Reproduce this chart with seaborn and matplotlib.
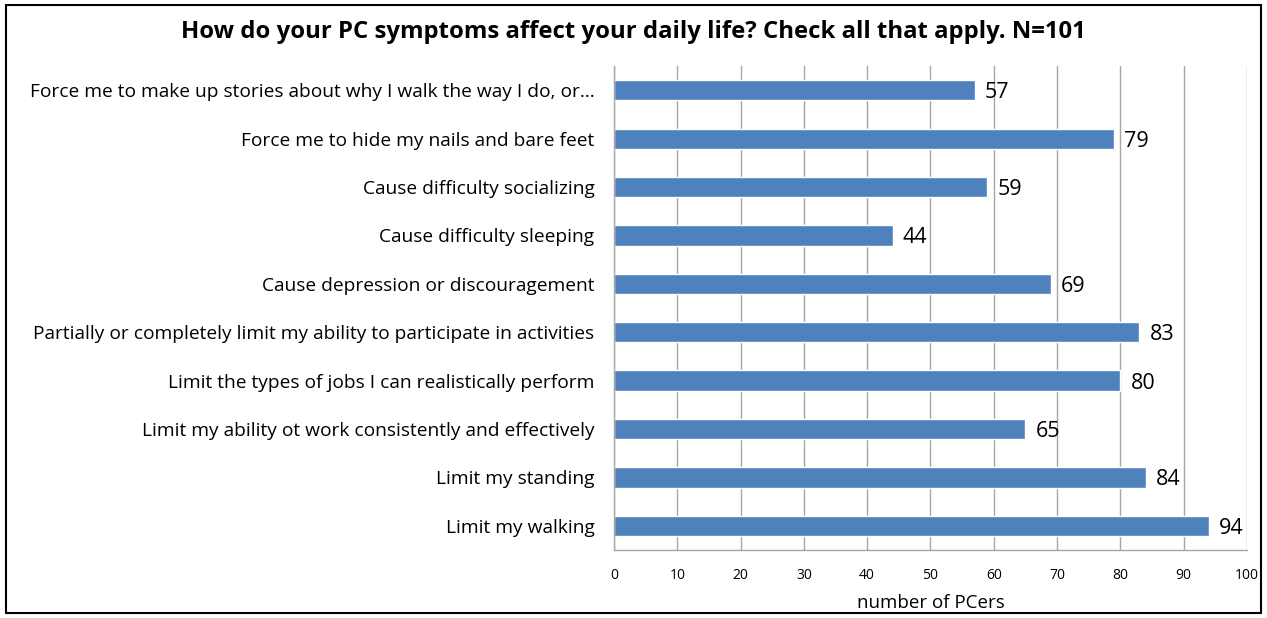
import matplotlib
matplotlib.use("Agg")
import matplotlib.pyplot as plt
import seaborn as sns
import pandas as pd
from matplotlib.patches import Rectangle

categories = [
    "Force me to make up stories about why I walk the way I do, or…",
    "Force me to hide my nails and bare feet",
    "Cause difficulty socializing",
    "Cause difficulty sleeping",
    "Cause depression or discouragement",
    "Partially or completely limit my ability to participate in activities",
    "Limit the types of jobs I can realistically perform",
    "Limit my ability ot work consistently and effectively",
    "Limit my standing",
    "Limit my walking",
]
values = [57, 79, 59, 44, 69, 83, 80, 65, 84, 94]
x_ticks = [0, 10, 20, 30, 40, 50, 60, 70, 80, 90, 100]

df = pd.DataFrame({"category": categories, "value": values})

sns.set_theme(style="white")
plt.rcParams["font.family"] = ["Open Sans", "DejaVu Sans"]
plt.rcParams["text.color"] = "black"
plt.rcParams["xtick.color"] = "black"
plt.rcParams["ytick.color"] = "black"
plt.rcParams["axes.labelcolor"] = "black"

fig = plt.figure(figsize=(12.67, 6.18), dpi=100)
ax = fig.add_axes([0.4846, 0.110, 0.4996, 0.783])

sns.barplot(data=df, y="category", x="value", orient="h", color="#4f81bd",
            saturation=1, width=0.42, ax=ax)

ax.set_xlim(0, 100)
ax.set_ylim(len(categories) - 0.5, -0.5)
ax.set_xticks(x_ticks)
ax.set_xticklabels([str(t) for t in x_ticks], fontsize=10)
ax.tick_params(axis="x", length=5, color="#a6a6a6", pad=8, labelcolor="black")
ax.tick_params(axis="y", length=0, labelsize=13.8, pad=14, labelcolor="black")
ax.xaxis.grid(True, color="#a6a6a6", linewidth=1)
ax.set_axisbelow(True)
for s in ["top", "right"]:
    ax.spines[s].set_visible(False)
for s in ["left", "bottom"]:
    ax.spines[s].set_color("#a6a6a6")
    ax.spines[s].set_linewidth(1)
ax.set_ylabel("")
ax.set_xlabel("number of PCers", fontsize=13.5, labelpad=8, color="black")

for i, v in enumerate(values):
    ax.text(v + 1.6, i, str(v), va="center_baseline", ha="left", fontsize=15.5, color="black")

fig.suptitle("How do your PC symptoms affect your daily life? Check all that apply. N=101",
             fontsize=17.2, fontweight="bold", y=0.967, color="black")

fig.patches.append(Rectangle((0.005, 0.008), 0.99, 0.984, transform=fig.transFigure,
                             fill=False, edgecolor="black", linewidth=1.5))

fig.savefig("out.png", dpi=100)
